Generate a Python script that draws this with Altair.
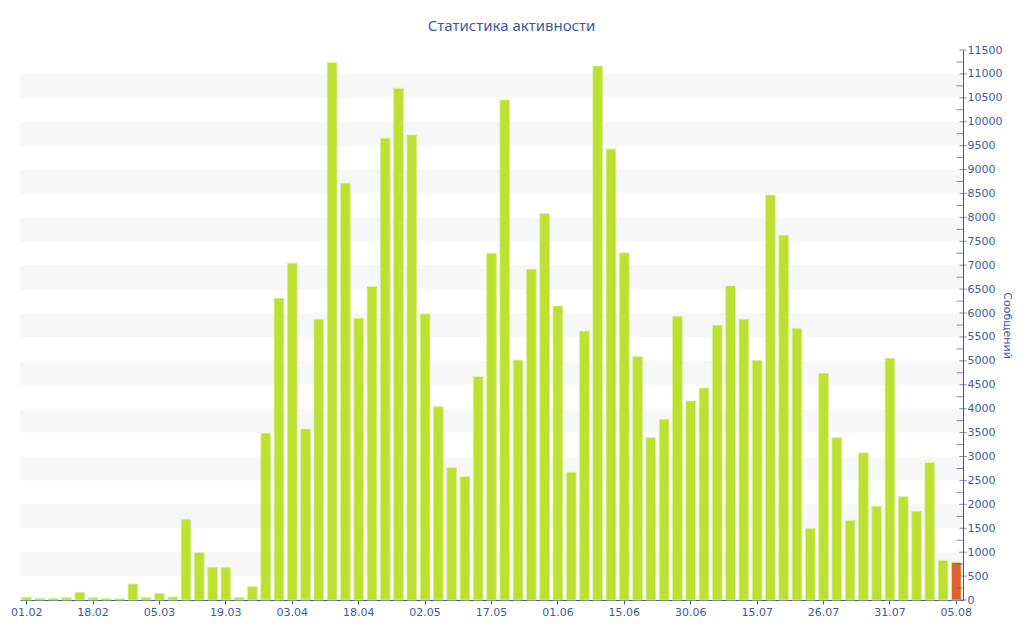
import altair as alt
import pandas as pd

# ---- data ----
values = [56, 35, 35, 48, 160, 48, 35, 28, 334, 56,
          139, 63, 1687, 990, 683, 676, 56, 279, 3486, 6308,
          7040, 3575, 5869, 11235, 8713, 5890, 6552, 9654, 10700, 9723,
          5980, 4042, 2767, 2579, 4670, 7249, 10455, 5018, 6915, 8078,
          6147, 2669, 5625, 11166, 9430, 7256, 5088, 3394, 3777, 5932,
          4161, 4433, 5743, 6566, 5869, 5011, 8469, 7625, 5680, 1498,
          4739, 3394, 1666, 3074, 1958, 5053, 2160, 1854, 2871, 829,
          788]
tick_labels = ["01.02", "18.02", "05.03", "19.03", "03.04", "18.04", "02.05",
               "17.05", "01.06", "15.06", "30.06", "15.07", "26.07", "31.07", "05.08"]
label_every = 5
band_lo = [500 + 1000 * k for k in range(11)]
major_ticks = list(range(0, 11501, 500))
minor_ticks = list(range(250, 11500, 500))

TITLE = "Статистика активности"
Y_TITLE = "Сообщений"

BLUE = "#3f5a9b"
GREEN = "#bde031"
ORANGE = "#e0622e"

W, H = 943, 550

bars_df = pd.DataFrame({
    "i": list(range(len(values))),
    "v": values,
    "cur": ["yes" if k == len(values) - 1 else "no" for k in range(len(values))],
})
bands_df = pd.DataFrame({"lo": band_lo, "hi": [b + 500 for b in band_lo]})
major_df = pd.DataFrame({"t": major_ticks})
minor_df = pd.DataFrame({"t": minor_ticks})

label_arr = "[" + ",".join(f"'{l}'" for l in tick_labels) + "]"

yscale = alt.Scale(domain=[0, 11500], nice=False, zero=True)
yaxis = alt.Axis(orient="right", values=major_ticks, grid=False, format="d",
                 ticks=False, tickSize=0, labelPadding=4,
                 domainColor=BLUE, labelColor=BLUE,
                 labelFont="DejaVu Sans", labelFontSize=11,
                 labelFlush=False,
                 title=Y_TITLE, titleColor=BLUE, titleFont="DejaVu Sans",
                 titleFontSize=11, titleFontWeight="normal",
                 titlePadding=0)

bands = alt.Chart(bands_df).mark_rect(color="#f7f7f7").encode(
    x=alt.value(0), x2=alt.value(W),
    y=alt.Y("lo:Q", scale=yscale, axis=yaxis, title=Y_TITLE),
    y2="hi:Q",
)

bars = alt.Chart(bars_df).mark_bar(stroke="#dcef94", strokeWidth=0.8).encode(
    x=alt.X("i:O",
            scale=alt.Scale(paddingInner=0.27, paddingOuter=0.135),
            axis=alt.Axis(values=list(range(0, len(values), label_every)),
                          labelExpr=f"{label_arr}[floor(datum.value / {label_every})]",
                          labelAngle=0, title=None, grid=False,
                          domainColor=BLUE, tickColor=BLUE, tickSize=4,
                          labelColor=BLUE, labelFont="DejaVu Sans", labelFontSize=11,
                          labelPadding=2)),
    y=alt.Y("v:Q", scale=yscale, axis=yaxis, title=Y_TITLE),
    color=alt.Color("cur:N", scale=alt.Scale(domain=["no", "yes"], range=[GREEN, ORANGE]),
                    legend=None),
)

majors = alt.Chart(major_df).mark_tick(orient="horizontal", color=BLUE, thickness=1,
                                       size=7).encode(
    x=alt.value(W), y=alt.Y("t:Q", scale=yscale, axis=yaxis, title=Y_TITLE))
minors = alt.Chart(minor_df).mark_tick(orient="horizontal", color=BLUE, thickness=1,
                                       size=7).encode(
    x=alt.value(W - 3), y=alt.Y("t:Q", scale=yscale, axis=yaxis, title=Y_TITLE))

chart = alt.layer(bands, bars, majors, minors).properties(
    width=W, height=H,
    title=alt.TitleParams(TITLE, color=BLUE, font="Noto Sans", fontSize=15,
                          fontWeight="normal", anchor="middle", dx=20, offset=10),
    autosize=alt.AutoSizeParams(type="none"),
    padding={"left": 12, "top": 42, "right": 53, "bottom": 32},
).configure_view(stroke=None)

chart.save("out.html", embed_options={"renderer": "svg", "actions": False})
